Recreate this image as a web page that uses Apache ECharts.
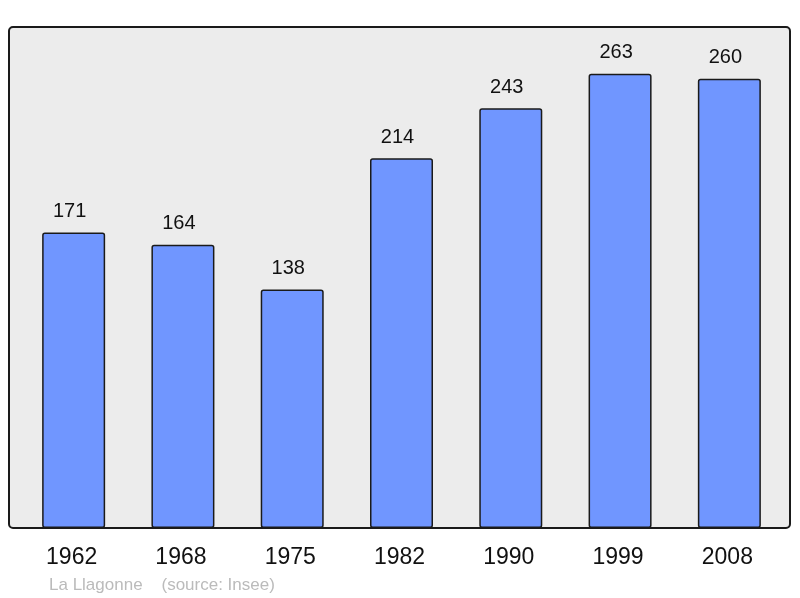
<!DOCTYPE html>
<html>
<head>
<meta charset="utf-8">
<script src="https://cdn.jsdelivr.net/npm/echarts@6/dist/echarts.min.js"></script>
<style>
  html, body {margin: 0; padding: 0; background: #fff;}
  #chart {width: 800px; height: 598px;}
</style>
</head>
<body>
<div id="chart"></div>
<script>
const years = ['1962', '1968', '1975', '1982', '1990', '1999', '2008'];
const population = [171, 164, 138, 214, 243, 263, 260];
const footnote = 'La Llagonne    (source: Insee)';

const myChart = echarts.init(document.getElementById('chart'));
const option = {
    animation: false,
    backgroundColor: '#fff',
    grid: {left: 19, width: 765, top: 27, height: 501},
    graphic: [
        {
            type: 'rect', z: -10, silent: true,
            shape: {x: 9, y: 27, width: 781, height: 501, r: 4},
            style: {fill: '#ececec', stroke: '#1a1a1a', lineWidth: 2}
        },
        {
            type: 'text', left: 49, top: 577,
            style: {text: footnote, fill: '#bbbbbb', font: '17px "Liberation Sans", Arial, sans-serif'}
        }
    ],
    xAxis: {
        type: 'category',
        data: years,
        axisLine: {show: false},
        axisTick: {show: false},
        axisLabel: {margin: 18, padding: [0, 4, 0, 0], fontSize: 23, color: '#111', fontFamily: '"Liberation Sans", Arial, sans-serif'}
    },
    yAxis: {
        type: 'value', min: 0, max: 290,
        show: false,
        splitLine: {show: false}
    },
    series: [{
        type: 'bar',
        data: population,
        barWidth: 63,
        itemStyle: {color: '#7096ff', borderColor: '#1a1a1a', borderWidth: 1.5, borderRadius: 2},
        label: {
            show: true, position: 'top', distance: 11, offset: [-4, 0],
            fontSize: 20, color: '#111',
            fontFamily: '"Liberation Sans", Arial, sans-serif'
        }
    }]
};
myChart.setOption(option);
</script>
</body>
</html>
